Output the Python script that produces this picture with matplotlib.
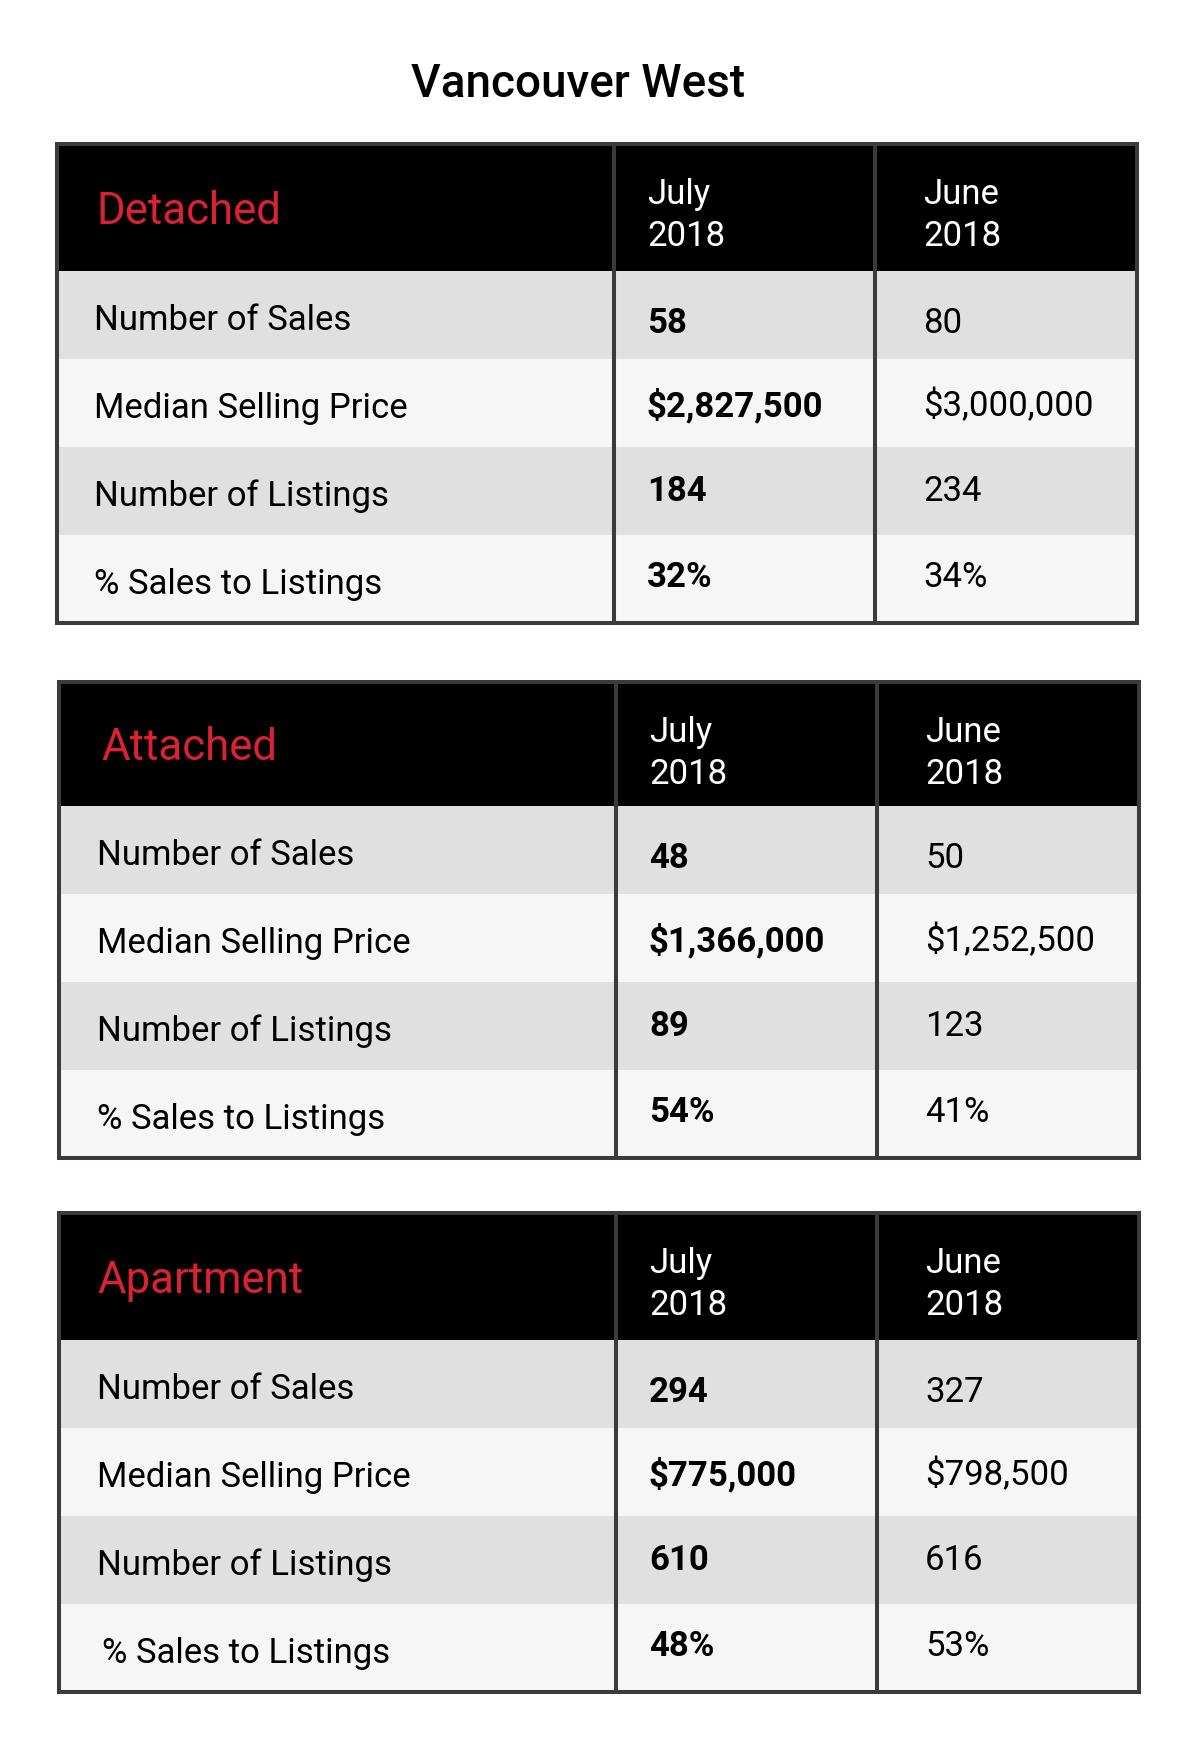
#!/usr/bin/env python3
"""Vancouver West - monthly sales summary tables (July vs June 2018)."""

import matplotlib
matplotlib.use("Agg")
import matplotlib.pyplot as plt
from matplotlib.patches import Rectangle

plt.rcParams["font.family"] = ["Roboto", "DejaVu Sans"]

# data
title = "Vancouver West"
categories = ["Detached", "Attached", "Apartment"]
periods = [("July", "2018"), ("June", "2018")]
metrics = ["Number of Sales", "Median Selling Price", "Number of Listings", "% Sales to Listings"]

detached_july = [58, 2827500, 184, 32]
detached_june = [80, 3000000, 234, 34]
attached_july = [48, 1366000, 89, 54]
attached_june = [50, 1252500, 123, 41]
apartment_july = [294, 775000, 610, 48]
apartment_june = [327, 798500, 616, 53]

july_values = [detached_july, attached_july, apartment_july]
june_values = [detached_june, attached_june, apartment_june]

# layout (pixels, y down)
W, H = 1200, 1751
table_tops = [144, 682, 1213]
table_lefts = [57, 59, 59]
table_rights = [1137, 1139, 1139]
col_splits = [(614, 875), (616, 877), (616, 877)]
header_heights = [127, 124, 127]
cat_indent = [39, 42, 38]
label_indent = [37, 38, 38]
row_h = 88
value_offsets = [62, 57, 54, 52]

RED = "#db2132"
GRAY = "#e0e0e0"
LIGHT = "#f6f6f6"
EDGE = "#3b3b3b"
LW = 2.9


def fmt(i, v):
    if i == 1:
        return f"${v:,}"
    if i == 3:
        return f"{v}%"
    return str(v)


fig = plt.figure(figsize=(W / 100, H / 100), dpi=100)
ax = fig.add_axes([0, 0, 1, 1])
ax.set_xlim(0, W)
ax.set_ylim(H, 0)
ax.axis("off")

ax.text(578, 97, title, fontsize=33, fontweight="medium", ha="center", va="baseline", color="black")

for t, cat in enumerate(categories):
    top, left, right = table_tops[t], table_lefts[t], table_rights[t]
    c1, c2 = col_splits[t]
    hh = header_heights[t]
    bottom = top + hh + row_h * len(metrics)

    # header
    ax.add_patch(Rectangle((left, top), right - left, hh, facecolor="black", edgecolor="none"))
    ax.text(left + cat_indent[t], top + hh / 2 + 16, cat, fontsize=31.5, color=RED,
            va="baseline", ha="left")
    for (month, year), x in zip(periods, [c1 + 33, c2 + 48]):
        ax.text(x, top + 60, month, fontsize=25, color="white", va="baseline", ha="left")
        ax.text(x, top + 102, year, fontsize=25, color="white", va="baseline", ha="left")

    # rows
    for i, label in enumerate(metrics):
        y0 = top + hh + i * row_h
        ax.add_patch(Rectangle((left, y0), right - left, row_h,
                               facecolor=GRAY if i % 2 == 0 else LIGHT, edgecolor="none"))
        lx = left + label_indent[t] + (5 if (t == 2 and i == 3) else 0)
        ax.text(lx, y0 + 59, label, fontsize=25, color="black", va="baseline", ha="left")
        ax.text(c1 + 33, y0 + value_offsets[i], fmt(i, july_values[t][i]), fontsize=25,
                fontweight="bold", color="black", va="baseline", ha="left")
        ax.text(c2 + 48, y0 + value_offsets[i], fmt(i, june_values[t][i]), fontsize=25,
                color="black", va="baseline", ha="left")

    # borders
    ax.add_patch(Rectangle((left, top), right - left, bottom - top, facecolor="none",
                           edgecolor=EDGE, linewidth=LW))
    ax.vlines([c1, c2], top, bottom, colors=EDGE, linewidth=LW)

fig.savefig("out.png", dpi=100, facecolor="white")
